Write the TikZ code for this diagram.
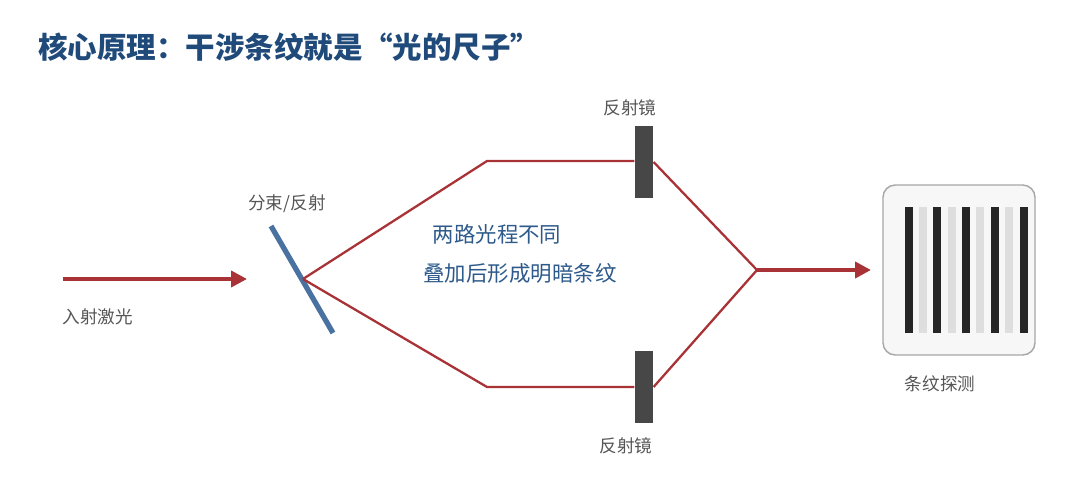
\documentclass[tikz,border=0pt]{standalone}
\usepackage{fontspec}
\setmainfont{Noto Sans CJK SC}
\usetikzlibrary{arrows.meta}
\definecolor{beam}{HTML}{A83236}
\definecolor{titleblue}{HTML}{1F4A7A}
\definecolor{txtblue}{HTML}{2D5A8A}
\definecolor{bsblue}{HTML}{4A72A0}
\definecolor{lbl}{HTML}{555555}
\tikzset{
  ray/.style={draw=beam, line width=1.3pt},
  mainray/.style={draw=beam, line width=2.2pt, -{Triangle[length=9pt,width=9pt]}},
  mirror/.style={fill=black!72, draw=none, minimum width=10.5pt, minimum height=41pt, inner sep=0pt},
  lab/.style={text=lbl, font=\fontsize{10}{12}\selectfont},
  mid/.style={text=txtblue, font=\fontsize{12.2}{14}\selectfont},
}
\begin{document}
\begin{tikzpicture}[x=0.02cm,y=-0.02cm]
\useasboundingbox (0,0) rectangle (1080,504);
\node[anchor=west, text=titleblue, font=\fontsize{16.8}{20}\selectfont\bfseries, inner sep=0pt] (title) at (38,47) {核心原理：干涉条纹就是“光的尺子”};
% laser
\coordinate (ls) at (63,279);
\coordinate (le) at (247,279);
\draw[mainray] (ls) -- (le);
\node[lab] (l1) at (98,317) {入射激光};
% beamsplitter
\coordinate (b1) at (271,226);
\coordinate (b2) at (333,333);
\draw[draw=bsblue, line width=3pt] (b1) -- (b2);
\node[lab] (l2) at (287,204) {分束/反射};
\coordinate (P) at (303,279);
% mirrors
\node[mirror] (m1) at (644,162) {};
\node[mirror] (m2) at (644,387) {};
\node[lab] (l3) at (630,108) {反射镜};
\node[lab] (l4) at (626,446) {反射镜};
\coordinate (u1) at (487,161);
\coordinate (d1) at (487,387);
\coordinate (J) at (757,270);
\coordinate (E) at (871,270);
\draw[ray] (P) -- (u1) -- (m1.west |- u1);
\draw[ray] (P) -- (d1) -- (m2.west |- d1);
\draw[ray] (m1.east) -- (J);
\draw[ray] (m2.east) -- (J);
\draw[mainray] (J) -- (E);
% text
\node[mid] (t1) at (497,234) {两路光程不同};
\node[mid] (t2) at (520,273) {叠加后形成明暗条纹};
% detector
\draw[draw=black!35, fill=black!3, line width=0.8pt, rounded corners=7pt] (883,185) rectangle (1035,355);
\foreach \x in {909,937,966,995,1024} \fill[black!85] (\x-4,207) rectangle (\x+4,333);
\foreach \x in {923,952,980,1009} \fill[black!13] (\x-4,207) rectangle (\x+4,333);
\node[lab] (l5) at (940,384) {条纹探测};
\end{tikzpicture}
\end{document}
